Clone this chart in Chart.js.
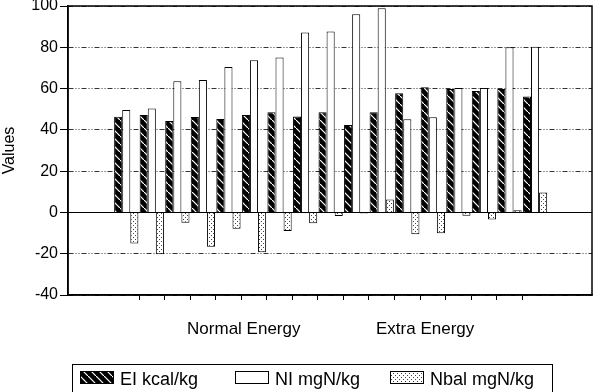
<!DOCTYPE html>
<html><head><meta charset="utf-8">
<script src="https://cdn.jsdelivr.net/npm/chart.js@4.4.0/dist/chart.umd.min.js"></script>
<style>html,body{margin:0;padding:0;background:#fff}#wrap{width:594px;height:392px;position:relative}</style>
</head><body><div id="wrap"><canvas id="c" width="594" height="392"></canvas></div>
<script>
// ---- data ----
const groups = [1,2,3,4,5,6,7,8,9,10,11,12,13,14,15,16,17];
const seriesNames = ['EI kcal/kg', 'NI mgN/kg', 'Nbal mgN/kg'];
const EI   = [46.4, 47.2, 44.3, 46.2, 45.2, 47.2, 48.5, 46.5, 48.5, 42.3, 48.5, 57.7, 60.6, 59.8, 58.8, 59.8, 56.2];
const NI   = [49.6, 50.4, 63.6, 64.1, 70.4, 73.7, 75.1, 87.2, 87.7, 96.0, 98.9, 45.1, 46.1, 60.3, 60.3, 80.0, 80.2];
const Nbal = [-15.0, -20.3, -5.0, -16.6, -7.9, -19.3, -9.0, -5.3, -1.7, -0.5, 6.3, -10.6, -10.1, -1.6, -3.4, 1.0, 9.7];
const yTickValues = [-40, -20, 0, 20, 40, 60, 80, 100];
const sectionLabels = ['Normal Energy', 'Extra Energy'];
const sectionPositions = [5.6, 12.7];
const groupBoundaries = [1.5,2.5,3.5,4.5,5.5,6.5,7.5,8.5,9.5,10.5,11.5,12.5,13.5,14.5,15.5,16.5];

// ---- patterns ----
function hatchPattern(){
  const c=document.createElement('canvas'); c.width=8; c.height=8;
  const g=c.getContext('2d'); g.fillStyle='#000'; g.fillRect(0,0,8,8);
  g.strokeStyle='#fff'; g.lineWidth=1.2; g.beginPath(); g.moveTo(-2,-2); g.lineTo(10,10); g.stroke();
  return g.createPattern(c,'repeat');
}
function dotPattern(){
  const c=document.createElement('canvas'); c.width=4; c.height=4;
  const g=c.getContext('2d'); g.fillStyle='#fff'; g.fillRect(0,0,4,4);
  g.fillStyle='#444'; g.fillRect(1,1,1,1); g.fillRect(3,3,1,1);
  return g.createPattern(c,'repeat');
}
const fills = [hatchPattern(), '#ffffff', dotPattern()];
const seriesValues = [EI, NI, Nbal];

Chart.defaults.font.family = '"Liberation Sans", Arial, sans-serif';
Chart.defaults.color = '#000';

function noPad(s){ s.paddingTop = 0; s.paddingBottom = 0; s.paddingLeft = 0; s.paddingRight = 0; }

const framePlugin = {
  id: 'frame',
  afterDatasetsDraw(chart){
    const {ctx, chartArea:a, scales:{y}} = chart;
    ctx.save();
    ctx.strokeStyle='#000'; ctx.lineWidth=1.5;
    ctx.strokeRect(a.left, a.top, a.right - a.left, a.bottom - a.top);
    const z = Math.round(y.getPixelForValue(0))+0.5;
    ctx.lineWidth=1.2; ctx.beginPath(); ctx.moveTo(a.left, z); ctx.lineTo(a.right, z); ctx.stroke();
    ctx.restore();
  },
  afterDraw(chart){
    const ctx = chart.ctx;
    ctx.save();
    ctx.strokeStyle='#000'; ctx.lineWidth=1;
    ctx.strokeRect(72.5, 364.5, 480, 40);
    ctx.font = '18px "Liberation Sans", Arial, sans-serif';
    ctx.textBaseline='alphabetic'; ctx.textAlign='left';
    seriesNames.forEach((name,i)=>{
      const sx = 80 + i*155;
      ctx.fillStyle = fills[i]; ctx.fillRect(sx, 371, 33, 12);
      ctx.strokeRect(sx+0.5, 371.5, 33, 12);
      ctx.fillStyle='#000'; ctx.fillText(name, sx+40, 385);
    });
    ctx.restore();
  }
};

new Chart(document.getElementById('c'), {
  type: 'bar',
  data: {
    datasets: seriesNames.map((name,i)=>({
      label: name,
      data: groups.map((g,j)=>({x:g, y:seriesValues[i][j]})),
      backgroundColor: fills[i],
      borderColor: '#000',
      borderWidth: 1,
      categoryPercentage: 0.95,
      barPercentage: 1.0
    }))
  },
  options: {
    responsive: false,
    animation: false,
    devicePixelRatio: 1,
    layout: { autoPadding: false, padding: {top: 6, right: 2, left: 0, bottom: 0} },
    plugins: { legend: {display: false}, tooltip: {enabled: false} },
    scales: {
      x: {
        type: 'linear', position: 'bottom', weight: 0, offset: false,
        min: -1.28, max: 19.23,
        afterBuildTicks: s => { s.ticks = groupBoundaries.map(v=>({value:v})); },
        afterFit: s => { s.height = 5; noPad(s); },
        ticks: { display: false },
        grid: { offset: false, drawOnChartArea: false, drawTicks: true, tickLength: 5, tickColor: '#000', color: '#000' },
        border: { display: true, color: '#000', width: 1.5 }
      },
      x2: {
        type: 'linear', position: 'bottom', weight: 1, offset: false,
        min: -1.28, max: 19.23,
        afterBuildTicks: s => { s.ticks = sectionPositions.map(v=>({value:v})); },
        afterFit: s => { s.height = 92; noPad(s); },
        ticks: { autoSkip: false, maxRotation: 0, padding: 19, font: {size: 17},
                 callback: (v, i) => sectionLabels[i] },
        grid: { display: false, drawTicks: false, offset: false },
        border: { display: false }
      },
      y: {
        min: -40, max: 100,
        afterBuildTicks: s => { s.ticks = yTickValues.map(v=>({value:v})); },
        afterFit: s => { s.width = 68; noPad(s); },
        ticks: { padding: 2, font: {size: 16} },
        title: { display: true, text: 'Values', font: {size: 16}, padding: 0 },
        grid: { color: '#333', lineWidth: 1, tickLength: 8, tickColor: '#000', tickWidth: 1 },
        border: { display: true, color: '#000', width: 1.5, dash: [5,2,1,2,1,2] }
      }
    }
  },
  plugins: [framePlugin]
});
</script></body></html>
